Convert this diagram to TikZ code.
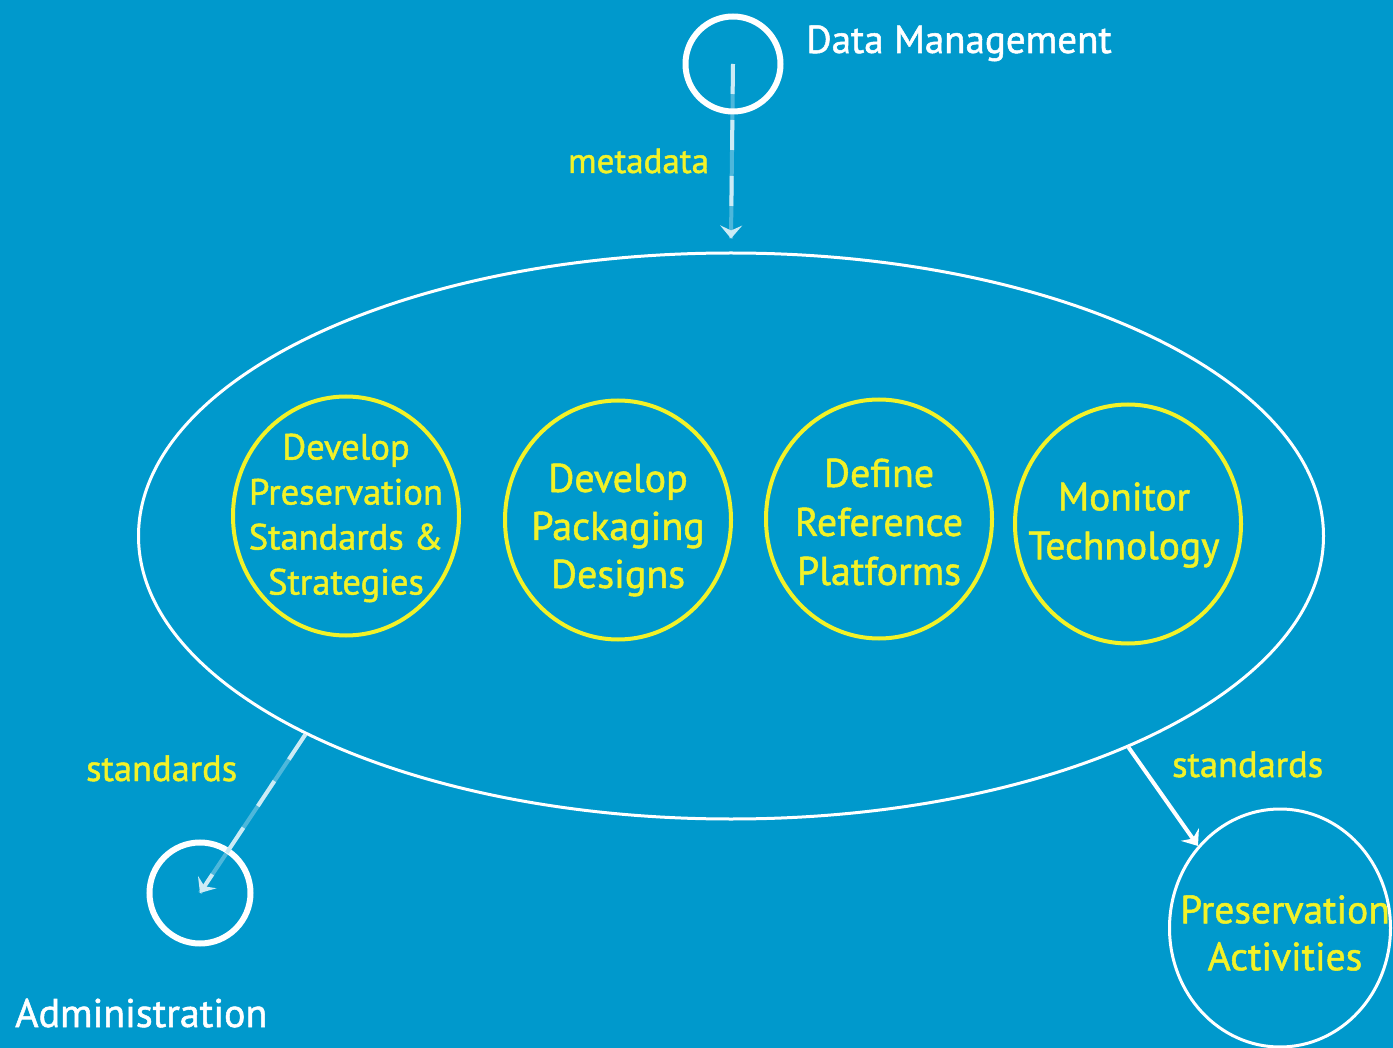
\documentclass[tikz,border=0pt]{standalone}
\usepackage{fontspec}
\setmainfont{PT Sans}[FakeBold=1.3]
\usetikzlibrary{shapes.geometric,arrows.meta}
\definecolor{bg}{RGB}{0,153,204}
\definecolor{yel}{RGB}{242,242,40}
\begin{document}
\begin{tikzpicture}[x=1pt,y=-1pt,
  wcirc/.style={circle,draw=white,line width=6pt,inner sep=0pt,minimum size=95pt},
  ycirc/.style={ellipse,draw=yel,line width=4pt,inner sep=0pt,minimum width=226pt,minimum height=239pt},
  ctext/.style={text=yel,align=center,inner sep=0pt},
  big/.style={ellipse,draw=white,line width=3pt,inner sep=0pt,minimum width=1185pt,minimum height=566pt},
  pacirc/.style={ellipse,draw=white,line width=3pt,inner sep=0pt,minimum width=221pt,minimum height=238pt},
  lbl/.style={text=yel,inner sep=0pt,font=\fontsize{36.5}{40}\selectfont},
  ttl/.style={text=white,inner sep=0pt,font=\fontsize{40}{44}\selectfont},
  faint/.style={draw=white,draw opacity=0.3,line width=4pt},
  dashy/.style={draw=white!80!bg,line width=4pt,dash pattern=on 30pt off 26pt,
     -{Stealth[length=13pt,width=22pt,inset=5pt]}},
  solidflow/.style={draw=white,line width=4pt,-{Stealth[length=14pt,width=22pt,inset=5pt]}}
]
\fill[bg] (0,0) rectangle (1393,1048);
\useasboundingbox (0,0) rectangle (1393,1048);
\clip (0,0) rectangle (1393,1048);

\node[big] (ell) at (731,536) {};
\node[wcirc] (dm) at (733,64) {};
\node[wcirc,minimum height=101pt] (adm) at (200,893) {};
\node[pacirc] (pa) at (1280,928) {};
\node[ctext,font=\fontsize{39.5}{47}\selectfont] (tpa) at (1285,933) {Preservation\\Activities};

\node[ycirc] (c1) at (346,516) {};
\node[ycirc] (c2) at (618,520) {};
\node[ycirc] (c3) at (879,519) {};
\node[ycirc] (c4) at (1128,524) {};
\node[ctext,font=\fontsize{36.5}{45}\selectfont] (t1) at (346,518) {Develop\\Preservation\\Standards \&\\Strategies};
\node[ctext,font=\fontsize{40}{48}\selectfont] (t2) at (618,530) {Develop\\Packaging\\Designs};
\node[ctext,font=\fontsize{40}{49}\selectfont] (t3) at (879,522) {Define\\Reference\\Platforms};
\node[ctext,font=\fontsize{39.5}{49}\selectfont] (t4) at (1124,525) {Monitor\\Technology};

\node[ttl,anchor=base west,font=\fontsize{39}{44}\selectfont] (tdm) at (806,53) {Data Management};
\node[ttl,anchor=base west] (tadm) at (15,1027) {Administration};
\node[lbl,anchor=base west,font=\fontsize{35}{40}\selectfont] (lmeta) at (568,173) {metadata};
\node[lbl,anchor=base west] (lstd1) at (86,781) {standards};
\node[lbl,anchor=base west] (lstd2) at (1172,777) {standards};

\coordinate (topin) at ([yshift=13pt]ell.north);
\draw[faint] (dm.center) -- (topin);
\draw[dashy] (dm.center) -- (topin);
\draw[faint] (ell.205) -- (adm.center);
\draw[dashy] (ell.205) -- (adm.center);
\draw[solidflow] (ell.-28) -- (pa.135);
\end{tikzpicture}
\end{document}
